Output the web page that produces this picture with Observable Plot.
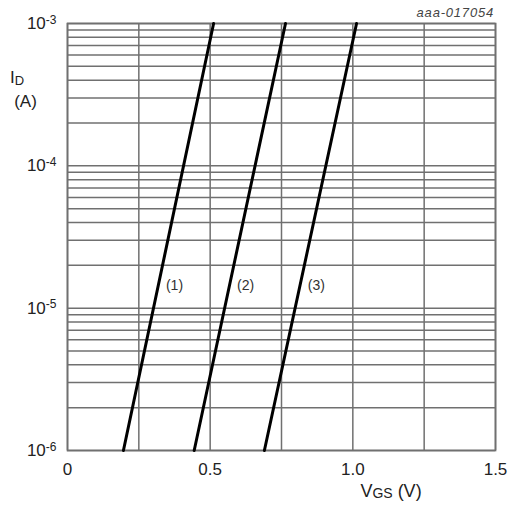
<!DOCTYPE html>
<html><head><meta charset="utf-8">
<script src="https://cdn.jsdelivr.net/npm/d3@7"></script>
<script src="https://cdn.jsdelivr.net/npm/@observablehq/plot@0.6"></script>
<style>
body{margin:0;background:#fff}
svg{display:block;font-family:"Liberation Sans",Arial,Helvetica,sans-serif}
</style>
</head><body><div id="chart"></div>
<script>
// ---- data ----
const curveLabels = ["(1)", "(2)", "(3)"];
const vgsAtIdMin = [0.196, 0.444, 0.690];   // V at 1e-6 A
const vgsAtIdMax = [0.512, 0.764, 1.013];   // V at 1e-3 A
const idRange = [1e-6, 1e-3];
const labelVgs = [0.375, 0.624, 0.872];
const labelId = [1.44e-5, 1.44e-5, 1.44e-5];
const xGrid = [0, 0.25, 0.5, 0.75, 1.0, 1.25, 1.5];
const xTickValues = [0, 0.5, 1.0, 1.5];
const xTickTexts = ["0", "0.5", "1.0", "1.5"];
const decades = [1e-6, 1e-5, 1e-4];
const multipliers = [1, 2, 3, 4, 5, 6, 7, 8, 9];
const yTickValues = [1e-6, 1e-5, 1e-4, 1e-3];
const yTickExponents = ["-6", "-5", "-4", "-3"];
const docCode = "aaa-017054";

// ---- build tables ----
const lineData = curveLabels.flatMap((c, i) => [
  {curve: c, v: vgsAtIdMin[i], id: idRange[0]},
  {curve: c, v: vgsAtIdMax[i], id: idRange[1]}
]);
const labelData = curveLabels.map((c, i) => ({text: c, v: labelVgs[i], id: labelId[i]}));
const yGrid = decades.flatMap(d => multipliers.map(m => d * m)).concat([1e-3]);

const gridColor = "#707070";

const chart = Plot.plot({
  width: 513,
  height: 507,
  marginLeft: 67,
  marginRight: 18,
  marginTop: 23,
  marginBottom: 57,
  style: {fontFamily: '"Liberation Sans", Arial, sans-serif', background: "#fff"},
  x: {domain: [0, 1.5]},
  y: {type: "log", domain: [1e-6, 1e-3]},
  marks: [
    Plot.ruleX(xGrid, {stroke: gridColor, strokeWidth: 1.5}),
    Plot.ruleY(yGrid, {stroke: gridColor, strokeWidth: 1.5}),
    Plot.frame({stroke: gridColor, strokeWidth: 1.7}),
    Plot.line(lineData, {x: "v", y: "id", z: "curve", stroke: "#000", strokeWidth: 3}),
    Plot.text(labelData, {x: "v", y: "id", text: "text", fontSize: 14, fill: "#333"}),
    Plot.axisX(xTickValues, {tickSize: 0, tickPadding: 12, fontSize: 17, fill: "#222",
      tickFormat: (d, i) => xTickTexts[xTickValues.indexOf(d)], label: null}),
    Plot.axisY(yTickValues, {tickSize: 0, tickPadding: 11, fontSize: 17, fill: "#222",
      tickFormat: d => "10^" + yTickExponents[yTickValues.indexOf(d)], label: null})
  ]
});

document.getElementById("chart").append(chart);

// superscript exponents on y tick labels
const svg = d3.select(chart);
svg.selectAll('g[aria-label="y-axis tick label"] text').each(function() {
  const t = d3.select(this);
  const s = t.text();
  const exp = s.split("^")[1];
  t.text("10");
  t.append("tspan").attr("dy", "-0.45em").attr("font-size", 12).text(exp);
});

// axis titles and doc code
const yTitle = svg.append("text").attr("x", 17).attr("y", 83)
  .attr("font-size", 17).attr("fill", "#222");
yTitle.append("tspan").text("I");
yTitle.append("tspan").attr("dy", 1.5).attr("font-size", 13).text("D");
svg.append("text").attr("x", 25.5).attr("y", 107).attr("text-anchor", "middle")
  .attr("font-size", 17).attr("fill", "#222").text("(A)");

const xTitle = svg.append("text").attr("x", 391).attr("y", 497)
  .attr("font-size", 18).attr("fill", "#222");
xTitle.append("tspan").text("V");
xTitle.append("tspan").attr("dy", 1).attr("font-size", 14).text("GS");
xTitle.append("tspan").attr("dy", -1).text(" (V)");

svg.append("text").attr("x", 494).attr("y", 17).attr("text-anchor", "end")
  .attr("font-size", 13).attr("font-style", "italic").attr("letter-spacing", 0.8)
  .attr("fill", "#444").text(docCode);
</script>
</body></html>
